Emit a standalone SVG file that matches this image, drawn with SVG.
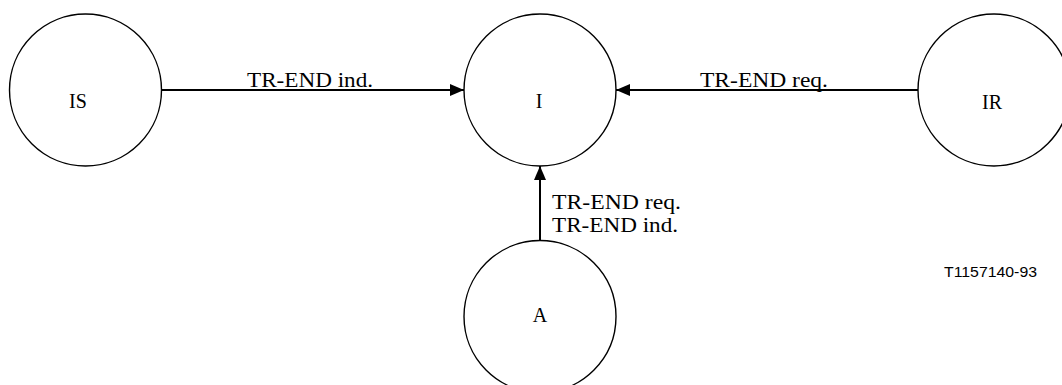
<svg xmlns="http://www.w3.org/2000/svg" width="1062" height="385" viewBox="0 0 1062 385">
<style>
.node{fill:#fff;stroke:#000;stroke-width:1.4}
.lbl{font-family:"Liberation Serif","Times New Roman",serif;font-size:20px;fill:#000;text-anchor:middle}
.clbl{font-family:"Liberation Serif","Times New Roman",serif;font-size:21px;fill:#000}
.edge{stroke:#000;stroke-width:2;fill:none}
.tag{font-family:"Liberation Sans",Arial,sans-serif;font-size:15px;fill:#000}
</style>
<defs>
<marker id="arr" viewBox="0 0 14 12" refX="14" refY="6" markerWidth="14" markerHeight="12" markerUnits="userSpaceOnUse" orient="auto">
<path d="M0,0 L14,6 L0,12 Z" fill="#000"/>
</marker>
</defs>
<rect width="1062" height="385" fill="#fff"/>
<g id="connectors">
<line class="edge" x1="162" y1="90" x2="464" y2="90" marker-end="url(#arr)"/>
<line class="edge" x1="918" y1="90" x2="616" y2="90" marker-end="url(#arr)"/>
<line class="edge" x1="540" y1="240" x2="540" y2="166" marker-end="url(#arr)"/>
<text class="clbl" x="247" y="87" textLength="126" lengthAdjust="spacingAndGlyphs">TR-END ind.</text>
<text class="clbl" x="700" y="87" textLength="128" lengthAdjust="spacingAndGlyphs">TR-END req.</text>
<text class="clbl" x="552" y="209" textLength="129" lengthAdjust="spacingAndGlyphs">TR-END req.</text>
<text class="clbl" x="552" y="232" textLength="126" lengthAdjust="spacingAndGlyphs">TR-END ind.</text>
</g>
<g id="node-IS">
<circle class="node" cx="85.5" cy="90" r="76"/>
<text class="lbl" x="78" y="108">IS</text>
</g>
<g id="node-I">
<circle class="node" cx="540" cy="90" r="76"/>
<text class="lbl" x="539" y="108">I</text>
</g>
<g id="node-IR">
<circle class="node" cx="994" cy="90" r="76"/>
<text class="lbl" x="992" y="109">IR</text>
</g>
<g id="node-A">
<circle class="node" cx="540" cy="316.5" r="76"/>
<text class="lbl" x="540" y="322">A</text>
</g>
<text class="tag" x="944" y="277" textLength="93" lengthAdjust="spacingAndGlyphs">T1157140-93</text>
</svg>
